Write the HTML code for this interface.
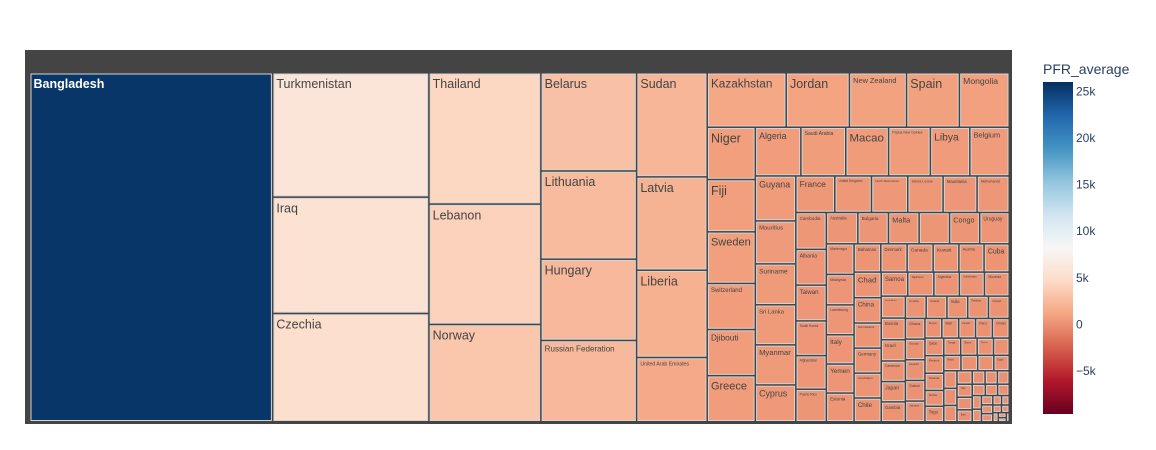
<!DOCTYPE html>
<html><head><meta charset="utf-8"><style>
html,body{margin:0;padding:0;background:#fff;width:1156px;height:450px;overflow:hidden}
svg{display:block;font-family:"Liberation Sans",sans-serif}
</style></head><body>
<svg id="chart" width="1156" height="450">
<defs><linearGradient id="cbg" x1="0" y1="1" x2="0" y2="0"></linearGradient></defs>
<rect x="25" y="50" width="987" height="374" fill="#444444"></rect>
<g id="tiles"></g>
<g id="colorbar"></g>
</svg>
<script>
const countries = ["Bangladesh","Turkmenistan","Iraq","Czechia","Thailand","Lebanon","Norway","Belarus","Lithuania","Hungary","Russian Federation","Sudan","Latvia","Liberia","United Arab Emirates","Kazakhstan","Jordan","New Zealand","Spain","Mongolia","Niger","Fiji","Sweden","Switzerland","Djibouti","Greece","Algeria","Saudi Arabia","Macao","Papua New Guinea","Libya","Belgium","Guyana","Mauritius","Suriname","Sri Lanka","Myanmar","Cyprus","France","United Kingdom","North Macedonia","Sierra Leone","Mauritania","Netherlands","Cambodia","Albania","Taiwan","South Korea","Afghanistan","Bulgaria","Puerto Rico","Australia","Malta","Trinidad and Tobago","Congo","Uruguay","Montenegro","Malaysia","Luxembourg","Italy","Yemen","Estonia","Bahamas","Denmark","Canada","Kuwait","Austria","Cuba","Chad","China","New Caledonia","Germany","Azerbaijan","Chile","Samoa","Tajikistan","Argentina","Uzbekistan","Slovenia","South Africa","Bosnia","Israel","Cameroon","Japan","Gambia","Croatia","Iceland","India","Pakistan","Ireland","Ghana","Georgia","Ecuador","Gabon","Jamaica","Kenya","Mali","Nepal","Peru","Oman","Qatar","Panama","Rwanda","Serbia","Togo","Tonga","Benin","Bhutan","Bolivia","Brazil","Burundi","Colombia","Egypt","Eritrea","Ethiopia","Finland","Guinea","Haiti","Honduras","Iran","Laos","Lesotho","Malawi","Mexico","Morocco","Namibia","Nigeria","Paraguay","Poland","Portugal","Romania","Senegal","Somalia","Syria","Tunisia","Uganda","Ukraine","Vietnam","Zambia","Zimbabwe","Angola","Armenia","Belize"];
const values = [25600,5870,5490,5110,4440,4070,3290,2840,2550,2350,2350,2220,1990,1860,1370,1300,1040,940,870,820,760,760,750,670,670,670,670,660,630,615,580,580,550,525,500,490,490,450,430,405,400,390,375,355,340,330,330,320,310,290,300,298,290,288,285,280,256,255,250,245,243,240,228,225,222,220,215,215,210,208,206,205,204,195,192,190,185,182,180,160,158,155,150,148,145,140,140,140,140,140,122,122,122,122,122,100,100,100,100,100,100,100,98,90,88,88,86,85,82,80,78,75,72,70,68,65,62,60,58,55,52,50,48,45,42,40,38,35,32,30,28,25,22,20,18,15,12,10,8];
const colorMin = -9600, colorMax = 26000;
const cbTicks = [-5000,0,5000,10000,15000,20000,25000];
const cbTickLabels = ["\u22125k","0","5k","10k","15k","20k","25k"];
const stops = [[103,0,31],[178,24,43],[214,96,77],[244,165,130],[253,219,199],[247,247,247],[209,229,240],[146,197,222],[67,147,195],[33,102,172],[5,48,97]];
function colorOf(v){
  let t=(v-colorMin)/(colorMax-colorMin); t=Math.max(0,Math.min(1,t));
  const p=t*10, i=Math.min(9,Math.floor(p)), f=p-i, a=stops[i], b=stops[i+1];
  return "rgb("+Math.round(a[0]+(b[0]-a[0])*f)+","+Math.round(a[1]+(b[1]-a[1])*f)+","+Math.round(a[2]+(b[2]-a[2])*f)+")";
}
const NS="http://www.w3.org/2000/svg";
const nodes = values.map((v,i)=>({name:countries[i]||("Country "+i),value:+v})).filter(d=>d.value>0).sort((a,b)=>b.value-a.value);
function squarify(nodes,X0,Y0,X1,Y1){
  let x0=X0,y0=Y0,x1=X1,y1=Y1;
  let i0=0,i1=0; const n=nodes.length;
  let value=0; nodes.forEach(d=>{value+=d.value;});
  while(i0<n){
    const dx=x1-x0, dy=y1-y0;
    let sumValue=nodes[i1].value; i1++;
    let minV=sumValue, maxV=sumValue;
    const alpha=Math.max(dy/dx,dx/dy)/value;
    let beta=sumValue*sumValue*alpha, minRatio=Math.max(maxV/beta,beta/minV);
    for(;i1<n;++i1){
      const nv=nodes[i1].value; sumValue+=nv;
      if(nv<minV)minV=nv; if(nv>maxV)maxV=nv;
      beta=sumValue*sumValue*alpha;
      const nr=Math.max(maxV/beta,beta/minV);
      if(nr>minRatio){sumValue-=nv;break;}
      minRatio=nr;
    }
    const row=nodes.slice(i0,i1);
    if(dx<dy){
      const ny=i1<n? y0+dy*sumValue/value : y1; let x=x0;
      row.forEach(d=>{const w=(x1-x0)*d.value/sumValue; d.rx0=x;d.rx1=x+w;d.ry0=y0;d.ry1=ny;x+=w;});
      y0=ny;
    } else {
      const nx=i1<n? x0+dx*sumValue/value : x1; let y=y0;
      row.forEach(d=>{const h=(y1-y0)*d.value/sumValue; d.ry0=y;d.ry1=y+h;d.rx0=x0;d.rx1=nx;y+=h;});
      x0=nx;
    }
    value-=sumValue; i0=i1;
  }
}
squarify(nodes,29.5,72.5,1009,421.5);
const g=document.getElementById('tiles');
nodes.forEach(d=>{
  const w=d.rx1-d.rx0-2.5, h=d.ry1-d.ry0-2.5;
  if(!(w>0&&h>0)) return;
  const r=document.createElementNS(NS,'rect');
  r.setAttribute('x',d.rx0+1.5); r.setAttribute('y',d.ry0+1.5);
  r.setAttribute('width',w); r.setAttribute('height',h);
  r.setAttribute('fill',colorOf(d.value));
  r.setAttribute('stroke','#d4d4d4'); r.setAttribute('stroke-width','1');
  
  
  g.appendChild(r);
  const fs=Math.min(12.5,(w-6)/(d.name.length*0.6),h-4);
  if(fs<2) return;
  const t=document.createElementNS(NS,'text');
  t.setAttribute('x',d.rx0+4); t.setAttribute('y',d.ry0+3+fs);
  t.setAttribute('font-size',fs.toFixed(2));
  const dark=d.value>15000;
  t.setAttribute('fill',dark?'#fff':'#444');
  if(dark) t.setAttribute('font-weight','bold');
  t.textContent=d.name;
  
  
  g.appendChild(t);
});
const cb=document.getElementById('colorbar');
const grad=document.getElementById('cbg');
stops.forEach((s,i)=>{
  const st=document.createElementNS(NS,'stop');
  st.setAttribute('offset',(i*10)+'%');
  st.setAttribute('stop-color',"rgb("+s[0]+","+s[1]+","+s[2]+")");
  grad.appendChild(st);
});
const cbTop=82, cbBot=414;
const cy=v=>cbBot-(v-colorMin)/(colorMax-colorMin)*(cbBot-cbTop);
const bar=document.createElementNS(NS,'rect');
bar.setAttribute('x',1043);bar.setAttribute('y',cbTop);bar.setAttribute('width',30);bar.setAttribute('height',cbBot-cbTop);bar.setAttribute('fill','url(#cbg)');


cb.appendChild(bar);
const title=document.createElementNS(NS,'text');
title.setAttribute('x',1043);title.setAttribute('y',74);title.setAttribute('font-size','14');title.setAttribute('fill','#2a3f5f');
title.textContent='PFR_average';


cb.appendChild(title);
cbTicks.forEach((v,i)=>{
  const t=document.createElementNS(NS,'text');
  t.setAttribute('x',1076);t.setAttribute('y',cy(v)+4);t.setAttribute('font-size','12');t.setAttribute('fill','#2a3f5f');
  t.textContent=cbTickLabels[i];
  
  
  cb.appendChild(t);
});
</script>
</body></html>
